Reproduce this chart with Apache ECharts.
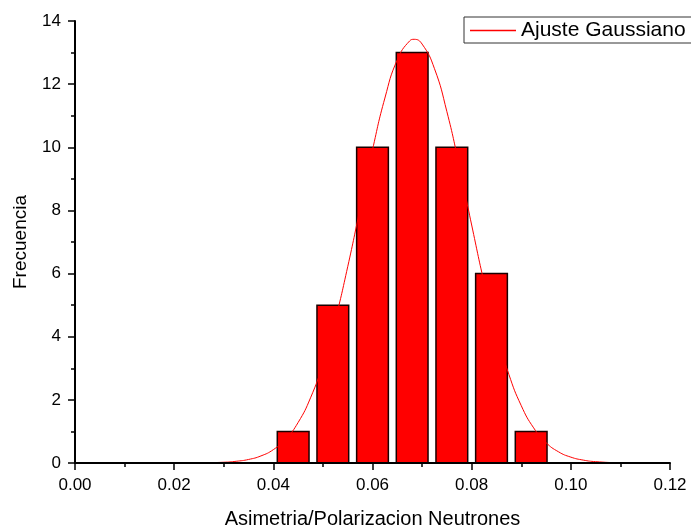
<!DOCTYPE html>
<html>
<head>
<meta charset="utf-8">
<script src="https://cdn.jsdelivr.net/npm/echarts@6/dist/echarts.min.js"></script>
<style>html,body{margin:0;padding:0;background:#fff;}#c{width:691px;height:527px;}</style>
</head>
<body>
<div id="c"></div>
<script>
// Histogram bins (centres) and counts
const binCenters = [0.044, 0.052, 0.060, 0.068, 0.076, 0.084, 0.092];
const counts = [1, 5, 10, 13, 10, 6, 1];

// Gaussian fit curve
const fitX = [0.004, 0.01, 0.015, 0.02, 0.025, 0.03, 0.0325, 0.035, 0.0375, 0.04, 0.0425, 0.045, 0.0475, 0.05, 0.0525, 0.055, 0.0575, 0.06, 0.0625, 0.065, 0.0675, 0.0684, 0.07, 0.0725, 0.075, 0.0775, 0.08, 0.0825, 0.085, 0.0875, 0.09, 0.0925, 0.095, 0.0975, 0.10, 0.1025, 0.105, 0.11, 0.115, 0.12];
const fitY = [0, 0, 0.0001, 0.0006, 0.0042, 0.024, 0.054, 0.112, 0.224, 0.423, 0.757, 1.284, 2.064, 3.144, 4.54, 6.216, 8.064, 9.917, 11.56, 12.77, 13.37, 13.42, 13.27, 12.49, 11.13, 9.41, 7.538, 5.723, 4.119, 2.809, 1.816, 1.113, 0.646, 0.356, 0.186, 0.092, 0.043, 0.008, 0.001, 0];

// Tick labels
const xTicks = ['0.00', '0.02', '0.04', '0.06', '0.08', '0.10', '0.12'];
const yTicks = [0, 2, 4, 6, 8, 10, 12, 14];

const BAR_WIDTH = 0.0064; // in data units
const FONT = 'Liberation Sans, Arial, sans-serif';

const chart = echarts.init(document.getElementById('c'), null, {renderer: 'canvas'});

const option = {
  backgroundColor: '#fff',
  animation: false,
  grid: {left: 75, right: 21, top: 21, bottom: 64, containLabel: false, outerBoundsMode: 'none'},
  legend: {
    data: [{name: 'Ajuste Gaussiano', icon: 'rect', itemStyle: {color: '#ff0000'}}],
    left: 464, top: 17,
    padding: [3, 12, 2, 6],
    borderColor: '#333', borderWidth: 1,
    backgroundColor: '#fff',
    itemWidth: 46, itemHeight: 1.5, itemGap: 6,
    textStyle: {fontFamily: FONT, fontSize: 21, color: '#000'}
  },
  xAxis: {
    type: 'value', min: 0, max: 0.12, interval: 0.02,
    z: 5,
    name: 'Asimetria/Polarizacion Neutrones',
    nameLocation: 'middle', nameGap: 46,
    nameTextStyle: {fontFamily: FONT, fontSize: 20, color: '#000'},
    axisLine: {show: true, onZero: false, lineStyle: {color: '#000', width: 2}},
    axisTick: {show: true, length: 7, lineStyle: {color: '#000', width: 1.5}},
    minorTick: {show: true, splitNumber: 2, length: 4, lineStyle: {color: '#000', width: 1.5}},
    splitLine: {show: false},
    axisLabel: {
      margin: 14, fontFamily: FONT, fontSize: 17, color: '#000',
      formatter: function (v) {
        const i = Math.round(v / 0.02);
        return xTicks[i] !== undefined ? xTicks[i] : v.toFixed(2);
      }
    }
  },
  yAxis: {
    type: 'value', min: yTicks[0], max: yTicks[yTicks.length - 1], interval: 2,
    z: 5,
    name: 'Frecuencia',
    nameLocation: 'middle', nameGap: 45,
    nameTextStyle: {fontFamily: FONT, fontSize: 19, color: '#000'},
    axisLine: {show: true, onZero: false, lineStyle: {color: '#000', width: 2}},
    axisTick: {show: true, length: 7, lineStyle: {color: '#000', width: 1.5}},
    minorTick: {show: true, splitNumber: 2, length: 4, lineStyle: {color: '#000', width: 1.5}},
    splitLine: {show: false},
    axisLabel: {margin: 14, fontFamily: FONT, fontSize: 17, color: '#000'}
  },
  series: [
    {
      name: 'Frecuencia',
      type: 'custom',
      z: 2,
      data: binCenters.map((x, i) => [x, counts[i]]),
      encode: {x: 0, y: 1},
      renderItem: function (params, api) {
        const x = api.value(0), y = api.value(1);
        const p1 = api.coord([x - BAR_WIDTH / 2, y]);
        const p2 = api.coord([x + BAR_WIDTH / 2, 0]);
        return {
          type: 'rect',
          shape: {x: p1[0], y: p1[1], width: p2[0] - p1[0], height: p2[1] - p1[1]},
          style: {fill: '#ff0000', stroke: '#1a0000', lineWidth: 1.5}
        };
      }
    },
    {
      name: 'Ajuste Gaussiano',
      type: 'line',
      z: 3,
      data: fitX.map((x, i) => [x, fitY[i]]),
      symbol: 'none',
      smooth: true,
      lineStyle: {color: '#ff0000', width: 1},
      itemStyle: {color: '#ff0000'}
    }
  ]
};
chart.setOption(option);
</script>
</body>
</html>
